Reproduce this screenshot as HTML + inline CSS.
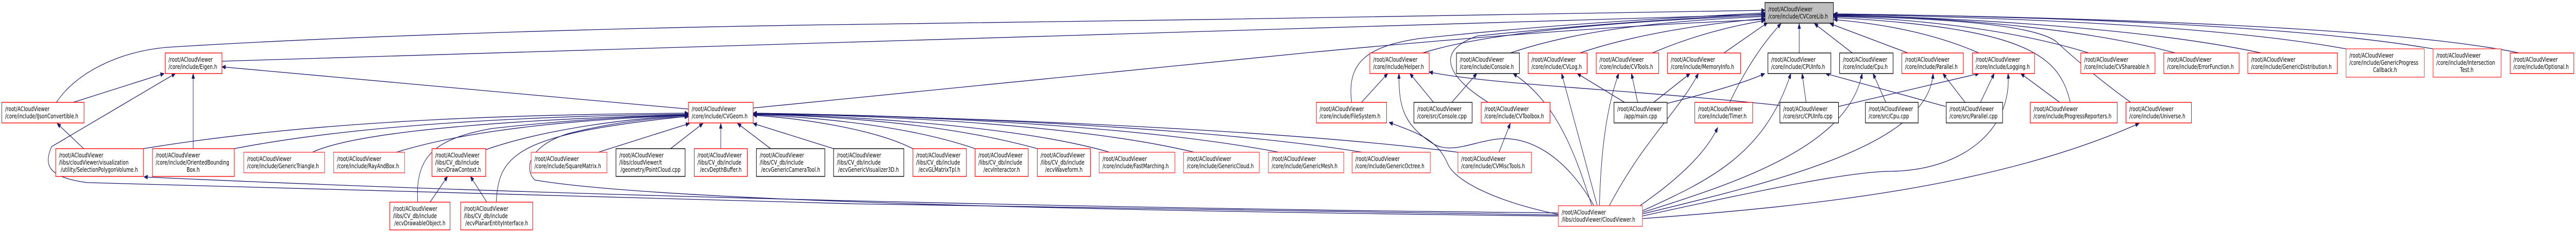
<!DOCTYPE html>
<html><head><meta charset="utf-8">
<meta name="viewport" content="width=7080, initial-scale=1">
<style>
html,body{margin:0;padding:0;background:#fff;width:100%;height:100%;overflow:hidden;}
svg{display:block;position:fixed;left:0;top:0;width:100%;height:100%;}
text{font-family:"DejaVu Sans","Liberation Sans",sans-serif;font-size:12.7px;fill:#000;}
.e{fill:none;stroke:#191970;stroke-width:1.3;marker-end:url(#a);}
.r{fill:#fff;stroke:#ff0000;stroke-width:1.4;}
.l{fill:#fff;stroke:#ff5050;stroke-width:1.6;}
.k{fill:#fff;stroke:#000;stroke-width:1.4;}
</style></head><body>
<svg viewBox="0 0 7080 453" preserveAspectRatio="none" xmlns="http://www.w3.org/2000/svg">
<defs><marker id="a" markerUnits="userSpaceOnUse" markerWidth="11" markerHeight="8" refX="10" refY="4" orient="auto"><path d="M0,0 L10,4 L0,8 z" fill="#191970" stroke="#191970"/></marker></defs>
<rect width="7080" height="453" fill="#fff"/>
<path class="e" d="M155,199 C210,140 330,100 459,92 C1000,68 1800,52 2400,47 C3200,40 4200,28 4851,20"/>
<path class="e" d="M610,119 L4851,28"/>
<path class="e" d="M2070,210 L3600,102 C4200,62 4600,45 4851,38"/>
<path class="e" d="M3910,103 C4100,60 4500,40 4851,30"/>
<path class="e" d="M3715,199 C3700,120 3760,90 3900,75 C4300,45 4600,35 4851,25"/>
<path class="e" d="M4151,103 C4350,55 4600,40 4851,32"/>
<path class="e" d="M4090,199 C3980,150 3940,100 4060,70 C4400,45 4650,35 4851,27"/>
<path class="e" d="M4342,103 C4500,65 4700,45 4851,36"/>
<path class="e" d="M4541,103 C4650,70 4760,50 4851,40"/>
<path class="e" d="M4738,103 L4858,44"/>
<path class="e" d="M4754,199 C4800,130 4850,80 4895,46"/>
<path class="e" d="M4945,103 L4945,46"/>
<path class="e" d="M5091,103 L4987,46"/>
<path class="e" d="M5244,103 L5030,46"/>
<path class="e" d="M5439,103 C5300,60 5150,45 5040,38"/>
<path class="e" d="M5741,103 C5500,50 5200,35 5040,32"/>
<path class="e" d="M5979,103 C5700,50 5300,32 5040,30"/>
<path class="e" d="M6215,103 C5900,55 5400,35 5040,29"/>
<path class="e" d="M6448,95 C6100,50 5500,33 5040,28"/>
<path class="e" d="M6687,95 C6300,48 5600,32 5040,27"/>
<path class="e" d="M6924,103 C6600,55 5800,34 5040,27"/>
<path class="e" d="M5690,199 C5660,110 5580,55 5040,34"/>
<path class="e" d="M5856,199 C5760,150 5680,100 5650,80 C5580,45 5300,35 5040,31"/>
<path class="e" d="M201,199 L451,143"/>
<path class="e" d="M531,289 L531,143"/>
<path class="e" d="M1892,212 L610,130"/>
<path class="e" d="M4283,418 C3000,410 1500,385 240,355 C130,345 120,320 142,285 L482,143"/>
<path class="e" d="M4283,414 C3000,405 1500,380 396,344"/>
<path class="e" d="M230,289 L157,240"/>
<path class="e" d="M394,289 C900,230 1500,222 1892,220"/>
<path class="e" d="M644,289 C1000,240 1500,225 1892,222"/>
<path class="e" d="M858,296 C1000,250 1500,230 1892,223"/>
<path class="e" d="M1089,296 C1300,250 1600,232 1892,224"/>
<path class="e" d="M1148,393 C1140,300 1200,270 1350,250 C1600,230 1800,225 1892,224"/>
<path class="e" d="M1335,291 C1500,250 1750,228 1892,225"/>
<path class="e" d="M1364,393 C1370,300 1420,260 1892,226"/>
<path class="e" d="M4283,420 C3000,410 1800,390 1470,350 C1440,330 1450,285 1560,260 C1700,235 1820,228 1892,227"/>
<path class="e" d="M1644,296 L1895,240"/>
<path class="e" d="M1843,289 L1932,240"/>
<path class="e" d="M1981,289 L1981,240"/>
<path class="e" d="M2118,289 L2027,240"/>
<path class="e" d="M2291,289 L2070,240"/>
<path class="e" d="M2509,289 C2400,250 2200,230 2070,224"/>
<path class="e" d="M2680,289 C2500,245 2250,228 2070,223"/>
<path class="e" d="M2851,289 C2600,240 2300,226 2070,222"/>
<path class="e" d="M3050,296 C2800,245 2350,226 2070,221"/>
<path class="e" d="M3283,296 C2950,240 2400,224 2070,221"/>
<path class="e" d="M3516,296 C3100,240 2450,224 2070,220"/>
<path class="e" d="M3745,296 C3300,245 2500,224 2070,220"/>
<path class="e" d="M4007,296 C3500,250 2600,226 2070,221"/>
<path class="e" d="M1182,393 L1230,343"/>
<path class="e" d="M1338,393 L1293,343"/>
<path class="e" d="M3742,199 L3814,143"/>
<path class="e" d="M3940,199 L3875,143"/>
<path class="e" d="M4381,400 C4300,300 4200,265 4120,270 C4050,275 3990,300 3940,280 C3850,240 3845,200 3845,143"/>
<path class="e" d="M4892,205 C4500,175 4100,165 3928,140"/>
<path class="e" d="M3990,199 L4059,143"/>
<path class="e" d="M4375,400 C4330,300 4280,200 4159,143"/>
<path class="e" d="M4390,400 L4292,143"/>
<path class="e" d="M4465,199 L4335,143"/>
<path class="e" d="M4396,400 C4400,280 4420,200 4449,143"/>
<path class="e" d="M4501,199 L4484,143"/>
<path class="e" d="M4423,400 C4520,270 4610,220 4668,143"/>
<path class="e" d="M4545,199 L4645,143"/>
<path class="e" d="M4283,417 C4100,390 4000,350 3980,320 C3950,270 3900,260 3818,238"/>
<path class="e" d="M4507,400 C4650,330 4700,280 4721,248"/>
<path class="e" d="M4120,296 L4151,240"/>
<path class="e" d="M4964,199 L4953,143"/>
<path class="e" d="M4582,201 C4700,180 4800,160 4850,143"/>
<path class="e" d="M5347,207 L5018,143"/>
<path class="e" d="M4514,410 C4700,350 4850,300 4922,143"/>
<path class="e" d="M5183,199 L5148,143"/>
<path class="e" d="M4514,413 C4800,350 5080,280 5118,143"/>
<path class="e" d="M5401,199 L5340,143"/>
<path class="e" d="M4514,416 C4900,350 5300,280 5313,143"/>
<path class="e" d="M5053,207 L5439,143"/>
<path class="e" d="M5443,199 L5481,143"/>
<path class="e" d="M5661,199 L5554,143"/>
<path class="e" d="M4514,420 C4900,360 5100,333 5200,333 C5400,330 5530,250 5519,143"/>
<path class="e" d="M4514,425 C5000,400 5500,360 5879,240"/>

<rect x="4851" y="5" width="188" height="40" fill="#bfbfbf" stroke="#000" stroke-width="1.4"/>
<text x="4860" y="22">/root/ACloudViewer</text><text x="4860" y="36">/core/include/CVCoreLib.h</text>

<rect class="r" x="454" y="103" width="156" height="40"/><text x="463" y="120">/root/ACloudViewer</text><text x="463" y="134">/core/include/Eigen.h</text>
<rect class="r" x="3765" y="103" width="163" height="40"/><text x="3774" y="120">/root/ACloudViewer</text><text x="3774" y="134">/core/include/Helper.h</text>
<rect class="k" x="4003" y="103" width="173" height="40"/><text x="4012" y="120">/root/ACloudViewer</text><text x="4012" y="134">/core/include/Console.h</text>
<rect class="r" x="4200" y="103" width="162" height="40"/><text x="4209" y="120">/root/ACloudViewer</text><text x="4209" y="134">/core/include/CVLog.h</text>
<rect class="r" x="4387" y="103" width="172" height="40"/><text x="4396" y="120">/root/ACloudViewer</text><text x="4396" y="134">/core/include/CVTools.h</text>
<rect class="r" x="4583" y="103" width="201" height="40"/><text x="4592" y="120">/root/ACloudViewer</text><text x="4592" y="134">/core/include/MemoryInfo.h</text>
<rect class="k" x="4859" y="103" width="173" height="40"/><text x="4868" y="120">/root/ACloudViewer</text><text x="4868" y="134">/core/include/CPUInfo.h</text>
<rect class="k" x="5056" y="103" width="147" height="40"/><text x="5065" y="120">/root/ACloudViewer</text><text x="5065" y="134">/core/include/Cpu.h</text>
<rect class="r" x="5227" y="103" width="169" height="40"/><text x="5236" y="120">/root/ACloudViewer</text><text x="5236" y="134">/core/include/Parallel.h</text>
<rect class="r" x="5421" y="103" width="171" height="40"/><text x="5430" y="120">/root/ACloudViewer</text><text x="5430" y="134">/core/include/Logging.h</text>
<rect class="r" x="5719" y="103" width="204" height="40"/><text x="5728" y="120">/root/ACloudViewer</text><text x="5728" y="134">/core/include/CVShareable.h</text>
<rect class="r" x="5947" y="103" width="207" height="40"/><text x="5956" y="120">/root/ACloudViewer</text><text x="5956" y="134">/core/include/ErrorFunction.h</text>
<rect class="r" x="6178" y="103" width="246" height="40"/><text x="6187" y="120">/root/ACloudViewer</text><text x="6187" y="134">/core/include/GenericDistribution.h</text>
<rect class="l" x="6448" y="95" width="215" height="55"/><text x="6457" y="112">/root/ACloudViewer</text><text x="6457" y="126">/core/include/GenericProgress</text><text x="6555" y="140" text-anchor="middle">Callback.h</text>
<rect class="l" x="6687" y="95" width="187" height="55"/><text x="6696" y="112">/root/ACloudViewer</text><text x="6696" y="126">/core/include/Intersection</text><text x="6780" y="140" text-anchor="middle">Test.h</text>
<rect class="r" x="6899" y="103" width="175" height="40"/><text x="6908" y="120">/root/ACloudViewer</text><text x="6908" y="134">/core/include/Optional.h</text>

<rect class="r" x="5" y="199" width="226" height="40"/><text x="14" y="216">/root/ACloudViewer</text><text x="14" y="230">/core/include/IJsonConvertible.h</text>
<rect class="r" x="1892" y="199" width="178" height="40"/><text x="1901" y="216">/root/ACloudViewer</text><text x="1901" y="230">/core/include/CVGeom.h</text>
<rect class="r" x="3618" y="199" width="193" height="40"/><text x="3627" y="216">/root/ACloudViewer</text><text x="3627" y="230">/core/include/FileSystem.h</text>
<rect class="k" x="3886" y="199" width="160" height="40"/><text x="3895" y="216">/root/ACloudViewer</text><text x="3895" y="230">/core/src/Console.cpp</text>
<rect class="r" x="4071" y="199" width="189" height="40"/><text x="4080" y="216">/root/ACloudViewer</text><text x="4080" y="230">/core/include/CVToolbox.h</text>
<rect class="k" x="4436" y="199" width="146" height="40"/><text x="4445" y="216">/root/ACloudViewer</text><text x="4509" y="230" text-anchor="middle">/app/main.cpp</text>
<rect class="r" x="4658" y="199" width="159" height="40"/><text x="4667" y="216">/root/ACloudViewer</text><text x="4667" y="230">/core/include/Timer.h</text>
<rect class="k" x="4892" y="199" width="161" height="40"/><text x="4901" y="216">/root/ACloudViewer</text><text x="4901" y="230">/core/src/CPUInfo.cpp</text>
<rect class="k" x="5127" y="199" width="145" height="40"/><text x="5136" y="216">/root/ACloudViewer</text><text x="5136" y="230">/core/src/Cpu.cpp</text>
<rect class="k" x="5349" y="199" width="155" height="40"/><text x="5358" y="216">/root/ACloudViewer</text><text x="5358" y="230">/core/src/Parallel.cpp</text>
<rect class="r" x="5580" y="199" width="239" height="40"/><text x="5589" y="216">/root/ACloudViewer</text><text x="5589" y="230">/core/include/ProgressReporters.h</text>
<rect class="r" x="5843" y="199" width="180" height="40"/><text x="5852" y="216">/root/ACloudViewer</text><text x="5852" y="230">/core/include/Universe.h</text>

<rect class="r" x="153" y="289" width="241" height="54"/><text x="162" y="306">/root/ACloudViewer</text><text x="162" y="320">/libs/cloudViewer/visualization</text><text x="273" y="334" text-anchor="middle">/utility/SelectionPolygonVolume.h</text>
<rect class="r" x="419" y="289" width="225" height="54"/><text x="428" y="306">/root/ACloudViewer</text><text x="428" y="320">/core/include/OrientedBounding</text><text x="531" y="334" text-anchor="middle">Box.h</text>
<rect class="l" x="670" y="296" width="222" height="40"/><text x="679" y="313">/root/ACloudViewer</text><text x="679" y="327">/core/include/GenericTriangle.h</text>
<rect class="l" x="917" y="296" width="195" height="40"/><text x="926" y="313">/root/ACloudViewer</text><text x="926" y="327">/core/include/RayAndBox.h</text>
<rect class="r" x="1187" y="289" width="148" height="54"/><text x="1196" y="306">/root/ACloudViewer</text><text x="1196" y="320">/libs/CV_db/include</text><text x="1261" y="334" text-anchor="middle">/ecvDrawContext.h</text>
<rect class="l" x="1460" y="296" width="208" height="40"/><text x="1469" y="313">/root/ACloudViewer</text><text x="1469" y="327">/core/include/SquareMatrix.h</text>
<rect class="k" x="1693" y="289" width="190" height="54"/><text x="1702" y="306">/root/ACloudViewer</text><text x="1702" y="320">/libs/cloudViewer/t</text><text x="1788" y="334" text-anchor="middle">/geometry/PointCloud.cpp</text>
<rect class="r" x="1908" y="289" width="146" height="54"/><text x="1917" y="306">/root/ACloudViewer</text><text x="1917" y="320">/libs/CV_db/include</text><text x="1981" y="334" text-anchor="middle">/ecvDepthBuffer.h</text>
<rect class="k" x="2079" y="289" width="188" height="54"/><text x="2088" y="306">/root/ACloudViewer</text><text x="2088" y="320">/libs/CV_db/include</text><text x="2173" y="334" text-anchor="middle">/ecvGenericCameraTool.h</text>
<rect class="k" x="2291" y="289" width="193" height="54"/><text x="2300" y="306">/root/ACloudViewer</text><text x="2300" y="320">/libs/CV_db/include</text><text x="2387" y="334" text-anchor="middle">/ecvGenericVisualizer3D.h</text>
<rect class="r" x="2509" y="289" width="147" height="54"/><text x="2518" y="306">/root/ACloudViewer</text><text x="2518" y="320">/libs/CV_db/include</text><text x="2582" y="334" text-anchor="middle">/ecvGLMatrixTpl.h</text>
<rect class="r" x="2680" y="289" width="146" height="54"/><text x="2689" y="306">/root/ACloudViewer</text><text x="2689" y="320">/libs/CV_db/include</text><text x="2753" y="334" text-anchor="middle">/ecvInteractor.h</text>
<rect class="r" x="2851" y="289" width="146" height="54"/><text x="2860" y="306">/root/ACloudViewer</text><text x="2860" y="320">/libs/CV_db/include</text><text x="2924" y="334" text-anchor="middle">/ecvWaveform.h</text>
<rect class="l" x="3021" y="296" width="208" height="40"/><text x="3030" y="313">/root/ACloudViewer</text><text x="3030" y="327">/core/include/FastMarching.h</text>
<rect class="l" x="3253" y="296" width="208" height="40"/><text x="3262" y="313">/root/ACloudViewer</text><text x="3262" y="327">/core/include/GenericCloud.h</text>
<rect class="l" x="3486" y="296" width="207" height="40"/><text x="3495" y="313">/root/ACloudViewer</text><text x="3495" y="327">/core/include/GenericMesh.h</text>
<rect class="l" x="3716" y="296" width="215" height="40"/><text x="3725" y="313">/root/ACloudViewer</text><text x="3725" y="327">/core/include/GenericOctree.h</text>
<rect class="l" x="4007" y="296" width="202" height="40"/><text x="4016" y="313">/root/ACloudViewer</text><text x="4016" y="327">/core/include/CVMiscTools.h</text>

<rect class="r" x="1071" y="393" width="166" height="54"/><text x="1080" y="410">/root/ACloudViewer</text><text x="1080" y="424">/libs/CV_db/include</text><text x="1154" y="438" text-anchor="middle">/ecvDrawableObject.h</text>
<rect class="r" x="1266" y="393" width="198" height="54"/><text x="1275" y="410">/root/ACloudViewer</text><text x="1275" y="424">/libs/CV_db/include</text><text x="1365" y="438" text-anchor="middle">/ecvPlanarEntityInterface.h</text>
<rect class="l" x="4283" y="400" width="231" height="40"/><text x="4292" y="417">/root/ACloudViewer</text><text x="4292" y="431">/libs/cloudViewer/CloudViewer.h</text>
</svg>
</body></html>
